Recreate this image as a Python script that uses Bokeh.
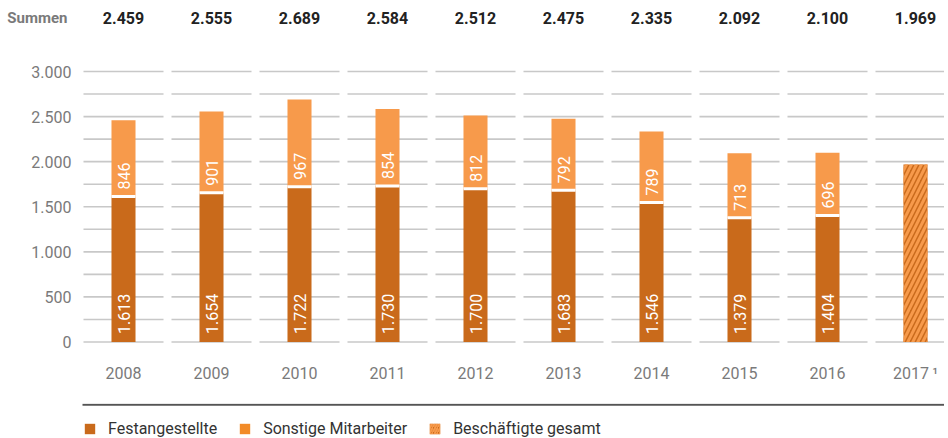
import numpy as np
from bokeh.plotting import figure
from bokeh.layouts import column
from bokeh.models import (Range1d, FixedTicker, LinearAxis, Legend, LegendItem,
                          ColumnDataSource)
from bokeh.embed import file_html
from bokeh.resources import INLINE
from bokeh.core.properties import value

# ---------------- data ----------------
years = ["2008", "2009", "2010", "2011", "2012", "2013", "2014", "2015", "2016", "2017"]
year_labels = ["2008", "2009", "2010", "2011", "2012", "2013", "2014", "2015", "2016", "2017\u2009\u00b9"]
festangestellte = [1613, 1654, 1722, 1730, 1700, 1683, 1546, 1379, 1404]
sonstige = [846, 901, 967, 854, 812, 792, 789, 713, 696]
gesamt_2017 = [1969]
summen = [2459, 2555, 2689, 2584, 2512, 2475, 2335, 2092, 2100, 1969]
y_ticks = [0, 500, 1000, 1500, 2000, 2500, 3000]
grid_values = [0, 250, 500, 750, 1000, 1250, 1500, 1750, 2000, 2250, 2500, 2750, 3000]
series_names = ["Festangestellte", "Sonstige Mitarbeiter", "Beschäftigte gesamt"]
summen_title = "Summen"

# ---------------- style / layout ----------------
FONT = "Roboto"
DARK = "#C96A1B"
LIGHT = "#F79A4B"
LEGEND_LIGHT = "#F28B28"
GRID = "#C8C8C8"
GRAY_TXT = "#7A7A7A"
BAR_W = 0.273
SUM_Y = 3588
FRAME_L = 79
FRAME_W = 865
FRAME_H = 344
LEG_H = 35
STEP = 88          # px per category
ZERO_PX = 341.5    # canvas y of value 0
TOP_PX = 71        # canvas y of value 3000


def de(n):
    return f"{n:,}".replace(",", ".")


n_all = len(years)
n_stack = len(festangestellte)
xs_stack = list(range(n_stack))
x_2017 = [n_all - 1]

px_per_unit = (ZERO_PX - TOP_PX) / 3000
y_end = 3000 + TOP_PX / px_per_unit
y_start = -(FRAME_H - ZERO_PX) / px_per_unit
x_end = -0.5 + FRAME_W / STEP

p = figure(frame_width=FRAME_W, frame_height=FRAME_H,
           x_range=Range1d(-0.5, x_end), y_range=Range1d(y_start, y_end),
           output_backend="svg", toolbar_location=None,
           min_border_left=FRAME_L, min_border_right=0, min_border_top=0, min_border_bottom=0)
p.outline_line_color = None
p.grid.visible = False

# segmented grid lines per category
gx0, gx1, gy = [], [], []
half = 40 / STEP
for i in range(n_all):
    for g in grid_values:
        gx0.append(i - half)
        gx1.append(i + half)
        gy.append(g)
p.segment(x0=gx0, x1=gx1, y0=gy, y1=gy, line_color=GRID, line_width=1.6)

# stacked bars
src = ColumnDataSource(dict(
    x=xs_stack,
    fest=festangestellte,
    tot=[f + s for f, s in zip(festangestellte, sonstige)],
    fest_txt=[de(v) for v in festangestellte],
    sons_txt=[de(v) for v in sonstige],
))
p.vbar(x="x", top="fest", bottom=0, width=BAR_W, source=src,
       fill_color=DARK, line_color=None)
p.vbar(x="x", top="tot", bottom="fest", width=BAR_W, source=src,
       fill_color=LIGHT, line_color=None)
p.rect(x="x", y="fest", width=BAR_W, height=3, height_units="screen", source=src,
       fill_color="white", line_color=None)

# hatched total bar 2017
p.vbar(x=x_2017, top=gesamt_2017, bottom=0, width=BAR_W,
       fill_color=DARK, line_color=None,
       hatch_pattern="/", hatch_color=LIGHT, hatch_weight=3, hatch_scale=10)

# in-bar labels
p.text(x="x", y=0, text="fest_txt", source=src, angle=np.pi / 2,
       text_align="left", text_baseline="middle", y_offset=-8,
       text_color="white", text_font=value(FONT), text_font_size="16px")
p.text(x="x", y="fest", text="sons_txt", source=src, angle=np.pi / 2,
       text_align="left", text_baseline="middle", y_offset=-7,
       text_color="white", text_font=value(FONT), text_font_size="16px")

# sums row
p.text(x=list(range(n_all)), y=[SUM_Y] * n_all, text=[de(v) for v in summen],
       text_align="center", text_baseline="middle", text_color="#222222",
       text_font=value(FONT), text_font_size="16px", text_font_style="bold")

# axes
xa = p.xaxis[0]
xa.ticker = FixedTicker(ticks=list(range(n_all)))
xa.major_label_overrides = {i: lab for i, lab in enumerate(year_labels)}
xa.major_tick_line_color = None
xa.minor_tick_line_color = None
xa.major_tick_out = 0
xa.minor_tick_out = 0
xa.axis_line_color = None
xa.major_label_standoff = 19
xa.major_label_text_font = FONT
xa.major_label_text_font_size = "16px"
xa.major_label_text_color = GRAY_TXT
xa.axis_label = " "
xa.axis_label_standoff = 0
xa.axis_label_text_font_size = "13px"

ya = p.yaxis[0]
ya.ticker = FixedTicker(ticks=y_ticks)
ya.major_label_overrides = {t: de(t) for t in y_ticks}
ya.major_tick_line_color = None
ya.minor_tick_line_color = None
ya.major_tick_out = 0
ya.minor_tick_out = 0
ya.axis_line_color = None
ya.major_label_standoff = 8
ya.major_label_text_font = FONT
ya.major_label_text_font_size = "16px"
ya.major_label_text_color = GRAY_TXT

# "Summen" row title as an outer left axis
sum_axis = LinearAxis(ticker=FixedTicker(ticks=[SUM_Y]),
                      major_label_overrides={SUM_Y: summen_title},
                      axis_line_color=None, major_tick_line_color=None,
                      minor_tick_line_color=None, major_tick_out=0, minor_tick_out=0,
                      major_label_standoff=-39, major_label_text_font=FONT,
                      major_label_text_font_style="bold",
                      major_label_text_font_size="15px",
                      major_label_text_color=GRAY_TXT)
p.add_layout(sum_axis, "left")

# legend strip underneath, frame aligned with the chart
lg = figure(frame_width=FRAME_W, frame_height=LEG_H, x_range=Range1d(0, 1), y_range=Range1d(0, 1),
            output_backend="svg", toolbar_location=None,
            x_axis_location=None, y_axis_location=None,
            min_border_left=FRAME_L, min_border_right=0, min_border_top=0, min_border_bottom=0)
lg.outline_line_color = None
lg.grid.visible = False
lg.background_fill_alpha = 0
lg.border_fill_alpha = 0

# dark separator line at the top of the legend strip
sep_y = 1 - 1.2 / LEG_H
lg.segment(x0=[3 / FRAME_W], x1=[1], y0=[sep_y], y1=[sep_y],
           line_color="#555555", line_width=2)

r1 = lg.vbar(x=[-10], top=[-9], bottom=[-10], width=0.1, fill_color=DARK, line_color=None)
r2 = lg.vbar(x=[-10], top=[-9], bottom=[-10], width=0.1, fill_color=LEGEND_LIGHT, line_color=None)
r3 = lg.vbar(x=[-10], top=[-9], bottom=[-10], width=0.1, fill_color=DARK, line_color=None,
             hatch_pattern="/", hatch_color=LIGHT, hatch_weight=2, hatch_scale=5)
legend = Legend(items=[LegendItem(label=series_names[0], renderers=[r1]),
                       LegendItem(label=series_names[1], renderers=[r2]),
                       LegendItem(label=series_names[2], renderers=[r3])],
                orientation="horizontal", location=(4, 0),
                glyph_width=13, glyph_height=13, label_standoff=12, spacing=21,
                label_height=13, padding=0, margin=0, border_line_color=None,
                label_text_font=FONT, label_text_font_size="16px",
                label_text_color="#333333", background_fill_alpha=0)
lg.add_layout(legend)

layout = column(p, lg, spacing=0)
open("out.html", "w").write(file_html(layout, INLINE))
